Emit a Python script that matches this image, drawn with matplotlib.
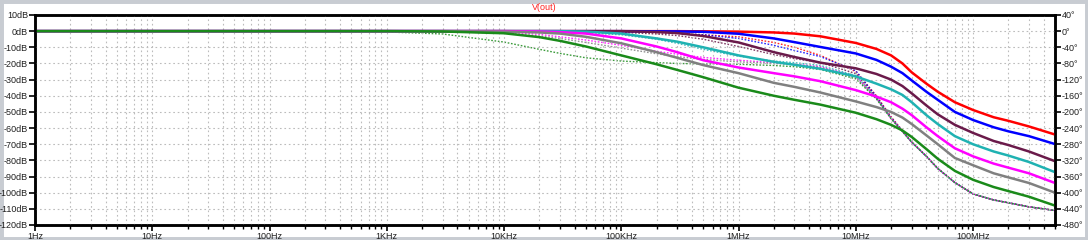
import numpy as np
import matplotlib
matplotlib.use("Agg")
import matplotlib.pyplot as plt
from matplotlib.ticker import FixedLocator, NullFormatter
from matplotlib.patches import Rectangle

# frequency points (Hz) the curves were read at
freq = [1, 1e3, 3e3, 1e4, 2e4, 3e4, 5e4, 1e5, 2e5, 3e5, 5e5, 1e6, 2e6, 3e6, 5e6,
        1e7, 1.5e7, 2e7, 2.5e7, 3e7, 4e7, 5e7, 7e7, 1e8, 1.5e8, 2e8, 3e8, 5e8]

# magnitude (dB), left axis
mag_red = [0, 0, 0, 0, 0, 0, 0, 0, 0, 0, -0.1, -0.3, -0.8, -1.5, -3.2,
           -7.3, -11.0, -15.0, -20.0, -25.5, -32.5, -37.5, -44.0, -48.8, -53.3, -55.5, -59.0, -64.0]
mag_blue = [0, 0, 0, 0, 0, 0, 0, 0, -0.1, -0.2, -0.4, -1.6, -4.5, -6.8, -9.8,
            -13.8, -17.8, -22.0, -26.0, -30.5, -37.5, -42.5, -50.0, -55.0, -59.5, -62.0, -65.0, -69.9]
mag_purple = [0, 0, 0, 0, 0, 0, 0, 0, -0.5, -1.2, -3.0, -7.0, -13.0, -16.0, -19.5,
              -23.0, -26.5, -30.0, -34.0, -38.5, -46.0, -51.5, -58.0, -63.0, -68.0, -70.5, -74.5, -80.5]
mag_cyan = [0, 0, 0, 0, 0, 0, -0.3, -1.5, -4.5, -6.5, -10.0, -15.0, -19.0, -20.8, -23.3,
            -28.0, -32.5, -36.0, -39.5, -44.0, -52.0, -57.5, -65.0, -70.0, -74.5, -77.0, -81.0, -87.3]
mag_magenta = [0, 0, 0, 0, -0.2, -0.6, -1.5, -4.5, -9.5, -13.0, -18.0, -22.5, -26.0, -28.0, -31.0,
               -36.5, -40.5, -44.0, -48.0, -52.0, -59.5, -65.0, -72.5, -77.5, -82.0, -84.5, -88.0, -94.0]
mag_gray = [0, 0, 0, -0.3, -0.8, -1.5, -3.5, -7.5, -13.0, -16.5, -21.0, -26.0, -32.0, -34.5, -38.0,
            -43.5, -47.0, -50.0, -53.5, -57.5, -64.5, -70.0, -78.5, -83.0, -88.0, -90.5, -94.0, -100.0]
mag_green = [0, 0, -0.2, -1.3, -3.7, -6.0, -9.5, -15.0, -20.5, -24.0, -28.5, -35.0, -40.0, -42.5, -45.5,
             -50.5, -54.5, -58.0, -61.5, -65.5, -73.0, -79.0, -86.5, -92.0, -96.5, -99.0, -102.5, -108.0]

# phase (degrees), right axis
ph_red = [0, 0, 0, 0, 0, 0, 0, -1, -4, -6, -9, -14, -28, -40, -60,
          -100, -160, -212, -246, -274, -310, -340, -375, -403, -418, -425, -435, -444]
ph_blue = [0, 0, 0, 0, 0, 0, -1, -2, -3, -5, -9, -18, -35, -48, -63,
           -98, -162, -214, -247, -275, -310, -340, -375, -403, -418, -425, -435, -444]
ph_purple = [0, 0, 0, 0, 0, -1, -1, -3, -7, -11, -20, -38, -58, -68, -78,
             -105, -164, -215, -248, -275, -310, -340, -375, -403, -418, -425, -435, -444]
ph_cyan = [0, 0, 0, 0, -1, -2, -4, -9, -20, -30, -45, -62, -74, -78, -85,
           -110, -165, -215, -248, -275, -310, -340, -375, -403, -418, -425, -435, -444]
ph_magenta = [0, 0, 0, -2, -8, -14, -22, -35, -50, -57, -65, -72, -78, -82, -88,
              -112, -166, -216, -248, -275, -310, -340, -375, -403, -418, -425, -435, -444]
ph_gray = [0, 0, -1, -5, -12, -18, -28, -42, -56, -63, -70, -76, -80, -83, -90,
           -115, -167, -216, -248, -275, -310, -340, -375, -403, -418, -425, -435, -444]
ph_green = [0, -2, -7, -27, -45, -55, -66, -74, -78, -80, -81, -82, -85, -88, -95,
            -118, -168, -217, -249, -275, -310, -340, -375, -403, -418, -425, -435, -444]

colors = ["#ff0000", "#0000ff", "#6a1a4a", "#1fb2b2", "#ff00ff", "#808080", "#1a8a1a"]
mags = [mag_red, mag_blue, mag_purple, mag_cyan, mag_magenta, mag_gray, mag_green]
phases = [ph_red, ph_blue, ph_purple, ph_cyan, ph_magenta, ph_gray, ph_green]

plt.rcParams["font.family"] = ["Liberation Sans", "DejaVu Sans"]

fig = plt.figure(figsize=(10.88, 2.4), dpi=100)
fig.patch.set_facecolor("white")
# window frame
fig.patches.append(Rectangle((0, 0), 1, 1, transform=fig.transFigure, fill=False,
                             edgecolor="#c8ccd2", linewidth=5, zorder=0))

ax = fig.add_axes([35 / 1088, 15 / 240, 1020 / 1088, 210 / 240])
ax2 = ax.twinx()

ax.set_xscale("log")
ax.set_xlim(1, 5e8)
ax.set_ylim(-120, 10)
ax2.set_ylim(-480, 40)

# grid
majors = [10.0 ** k for k in range(0, 9)]
minors = [m * 10.0 ** k for k in range(0, 9) for m in range(2, 10) if m * 10.0 ** k <= 5e8]
ax.xaxis.set_major_locator(FixedLocator(majors))
ax.xaxis.set_minor_locator(FixedLocator(minors))
ax.xaxis.set_minor_formatter(NullFormatter())
ax.set_xticklabels(["1Hz", "10Hz", "100Hz", "1KHz", "10KHz", "100KHz", "1MHz", "10MHz", "100MHz"])
ax.set_yticks(np.arange(-120, 11, 10))
ax.set_yticklabels(["%ddB" % v for v in np.arange(-120, 11, 10)])
ax2.set_yticks(np.arange(-480, 41, 40))
ax2.set_yticklabels(["%d\u00b0" % v for v in np.arange(-480, 41, 40)])

ax.grid(True, which="both", axis="x", color="#bcbcbc", linestyle=(0, (1.5, 2.5)), linewidth=0.8)
ax.grid(True, which="major", axis="y", color="#bcbcbc", linestyle=(0, (1.5, 2.5)), linewidth=0.8)

for a in (ax, ax2):
    for s in a.spines.values():
        s.set_linewidth(1.8)
        s.set_color("black")
ax.tick_params(axis="both", which="major", length=4, width=1.2, labelsize=6.5, pad=1)
ax.tick_params(axis="x", which="minor", length=3, width=1.0)
ax2.tick_params(axis="y", length=4, width=1.2, labelsize=6.5, pad=1)
for lab in ax.get_xticklabels() + ax.get_yticklabels() + ax2.get_yticklabels():
    lab.set_color("#202020")

for c, ph in zip(colors, phases):
    ax2.plot(freq, ph, color=c, linestyle=(0, (1.2, 1.2)), linewidth=1.0, alpha=0.85)
for c, m in zip(colors, mags):
    ax.plot(freq, m, color=c, linewidth=1.8, solid_capstyle="butt")

ax.set_zorder(ax2.get_zorder() + 1)
ax.patch.set_visible(False)

fig.text(0.5, 1 - 8 / 240, "V(out)", color="#ff2020", fontsize=6.5, ha="center", va="center")

fig.savefig("out.png", dpi=100)
